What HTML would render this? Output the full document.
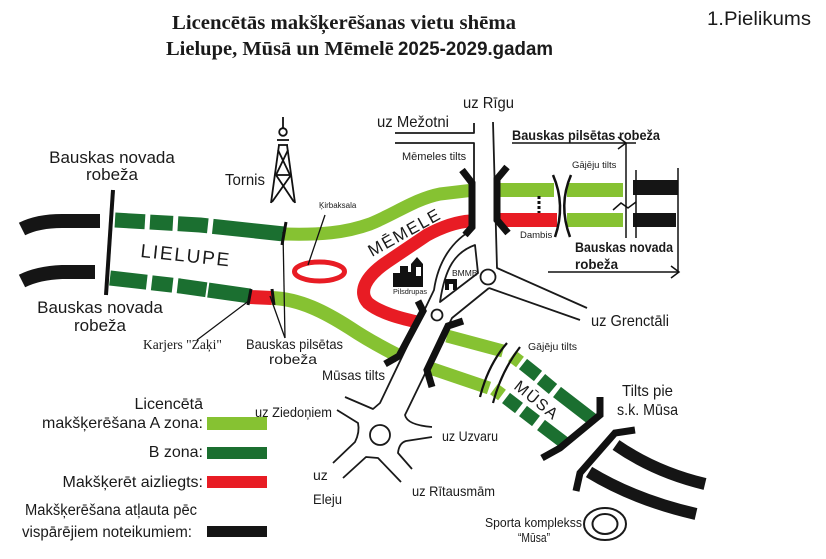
<!DOCTYPE html>
<html><head><meta charset="utf-8">
<style>
html,body{margin:0;padding:0;background:#fff;}
svg{display:block;}
text{font-family:"Liberation Sans",Arial,sans-serif;fill:#1a1a1a;}
.serif{font-family:"Liberation Serif","Times New Roman",serif;}
</style></head><body>
<svg width="826" height="559" viewBox="0 0 826 559" xmlns="http://www.w3.org/2000/svg">
<rect width="826" height="559" fill="#fff"/>

<!-- Title -->
<text class="serif" x="172" y="29" font-size="20.5" font-weight="bold" textLength="344" lengthAdjust="spacingAndGlyphs">Licencētās makšķerēšanas vietu shēma</text>
<text class="serif" x="166" y="55" font-size="20.5" font-weight="bold">Lielupe, Mūsā un Mēmelē</text>
<text x="398" y="55" font-size="19.5" font-weight="bold" textLength="155" lengthAdjust="spacingAndGlyphs">2025-2029.gadam</text>
<text x="707" y="25" font-size="19.5" textLength="104" lengthAdjust="spacingAndGlyphs">1.Pielikums</text>

<g fill="none" stroke-linecap="butt" stroke-linejoin="round">
  <!-- black upstream strips -->
  <path d="M22,229 Q38,221 62,221 L100,221" stroke="#151515" stroke-width="14"/>
  <path d="M22,281 Q38,273 62,272 L95,272" stroke="#151515" stroke-width="14"/>
  <!-- dark green dashed Lielupe -->
  <path d="M115,220 L200,225 L284,234" stroke="#1b6f30" stroke-width="15" stroke-dasharray="30 5 23 5 30 5 200"/>
  <path d="M110,278 L180,286 L250,296" stroke="#1b6f30" stroke-width="15" stroke-dasharray="37 5 21 5 29 2 100"/>
  <!-- red Zaki segment -->
  <path d="M250,297 L272,298" stroke="#e81c24" stroke-width="14"/>
  <!-- light green upper Lielupe / Memele -->
  <path d="M284,234 C320,235 345,233 370,224 C395,214 415,199 440,194 L474,190" stroke="#86c232" stroke-width="13"/>
  <!-- light green lower Lielupe -->
  <path d="M272,298 C300,299 325,312 350,328 C368,340 385,349 399,356" stroke="#86c232" stroke-width="14"/>
  <!-- red Memele -->
  <path d="M470,221 C455,222 440,228 427,235 L387,262 C365,277 358,292 368,303 C380,313 400,318 417,322" stroke="#e81c24" stroke-width="13"/>
  <!-- red island ellipse -->
  <ellipse cx="319.5" cy="271.5" rx="25" ry="9.5" stroke="#e81c24" stroke-width="5"/>
  <!-- right side rivers -->
  <path d="M500,190 L554,190" stroke="#86c232" stroke-width="14"/>
  <path d="M567,190 L623,190" stroke="#86c232" stroke-width="14"/>
  <path d="M500,220 L557,220" stroke="#e81c24" stroke-width="14"/>
  <path d="M567,220 L623,220" stroke="#86c232" stroke-width="14"/>
  <path d="M633,187.5 L678,187.5" stroke="#151515" stroke-width="15"/>
  <path d="M633,220 L676,220" stroke="#151515" stroke-width="14"/>
  <!-- Musa light green -->
  <path d="M447,336 L503,351" stroke="#86c232" stroke-width="13"/>
  <path d="M430,368 L489,388" stroke="#86c232" stroke-width="13"/>
  <path d="M512,356 L520,362" stroke="#86c232" stroke-width="13"/>
  <path d="M494,389 L502,395" stroke="#86c232" stroke-width="13"/>
  <!-- Musa dark green dashes -->
  <path d="M523,364 L538,376 M541,379 L553,389 M557,392 L592,419" stroke="#1b6f30" stroke-width="13"/>
  <path d="M506,398 L519,408 M523,411 L536,421 M541,425 L566,444" stroke="#1b6f30" stroke-width="13"/>
  <!-- black downstream -->
  <path d="M616,445 Q655,472 705,484" stroke="#151515" stroke-width="12"/>
  <path d="M589,472 Q635,500 696,514" stroke="#151515" stroke-width="12"/>
</g>

<!-- boundary ticks & lines -->
<g stroke="#111" fill="none">
  <line x1="113" y1="190" x2="106" y2="295" stroke-width="4"/>
  <line x1="286" y1="222" x2="282" y2="245" stroke-width="3"/>
  <line x1="251" y1="289" x2="248" y2="305" stroke-width="3"/>
  <line x1="272" y1="289" x2="274" y2="305" stroke-width="3"/>
  <line x1="285" y1="338" x2="283" y2="232" stroke-width="1.3"/>
  <line x1="285" y1="338" x2="270" y2="296" stroke-width="1.3"/>
  <line x1="197" y1="340" x2="250" y2="300" stroke-width="1.2"/>
  <line x1="325" y1="215" x2="308" y2="265" stroke-width="1.3"/>
  <!-- right boundaries -->
  <line x1="512" y1="143" x2="636" y2="143" stroke-width="1.5"/>
  <path d="M618,137 L626,143 L618,149" stroke-width="1.5"/>
  <line x1="626" y1="143" x2="626" y2="238" stroke-width="1.5"/>
  <line x1="636" y1="170" x2="636" y2="238" stroke-width="1.5"/>
  <line x1="678" y1="168" x2="678" y2="272" stroke-width="1.5"/>
  <line x1="548" y1="272" x2="679" y2="272" stroke-width="1.5"/>
  <path d="M671,266 L679,272 L671,278" stroke-width="1.5"/>
  <path d="M613,210 L621,203 L628,208 L636,202" stroke-width="1.5"/>
  <line x1="539" y1="196" x2="539" y2="213" stroke-width="3" stroke-dasharray="3 2"/>
  <!-- Gajeju tilts upper -->
  <path d="M553,175 Q566,205 555,237" stroke-width="2.5"/>
  <path d="M571,175 Q558,205 570,237" stroke-width="2.5"/>
  <!-- Gajeju tilts Musa -->
  <path d="M507,343 Q488,365 480,397" stroke-width="2.2"/>
  <path d="M520,347 Q501,372 493,403" stroke-width="2.2"/>
</g>

<!-- roads -->
<g stroke="#1a1a1a" stroke-width="1.8" fill="none" stroke-linejoin="round">
  <path d="M395,133 L474,133 L474,123"/>
  <path d="M395,143 L474,143 L474,229"/>
  <path d="M493,122 L497,268 L587,308"/>
  <path d="M489,288 L580,320"/>
  <path d="M474,229 C452,240 438,262 434,290 L380,403 L373,409 L345,397"/>
  <path d="M489,288 L452,318 L405,415 Q407,425 432,427"/>
  <path d="M475,245 C455,252 445,268 440,302 L478,273 Z"/>
  <circle cx="488" cy="277" r="7.5"/>
  <circle cx="437" cy="315" r="5.5"/>
  <circle cx="380" cy="435" r="10"/>
  <path d="M337,410 L358,423 Q360,432 355,442 L333,463"/>
  <path d="M343,478 L366,457 L378,458 L401,482"/>
  <path d="M412,469 L398,453 Q399,443 406,441 L432,437"/>
  <ellipse cx="605" cy="524" rx="21" ry="16" stroke-width="2"/>
  <ellipse cx="605" cy="524" rx="12.5" ry="10" stroke-width="2"/>
</g>

<!-- bridges -->
<g stroke="#111" stroke-width="7" fill="none" stroke-linejoin="miter" stroke-linecap="butt">
  <path d="M462,170 L472,183 L472,227 L465,235"/>
  <path d="M507,167 L497,179 L497,220 L508,233"/>
  <path d="M418,301 L423,311 L399,356 L385,364"/>
  <path d="M463,321 L448,326 L427,370 L432,387"/>
  <path d="M600,397 L600,415 L560,448 L542,458"/>
  <path d="M635,430 L615,433 L580,473 L576,491"/>
</g>

<!-- tower -->
<g stroke="#111" stroke-width="1.8" fill="none">
  <line x1="283" y1="117" x2="283" y2="128"/>
  <circle cx="283" cy="132" r="3.8"/>
  <line x1="277" y1="140" x2="289" y2="140"/>
  <line x1="278" y1="145" x2="288" y2="145"/>
  <line x1="279" y1="145" x2="271" y2="203"/>
  <line x1="287" y1="145" x2="295" y2="203"/>
  <line x1="276" y1="175" x2="291" y2="175"/>
  <line x1="278" y1="150" x2="290" y2="175"/>
  <line x1="288" y1="150" x2="276" y2="175"/>
  <line x1="276" y1="175" x2="294" y2="202"/>
  <line x1="291" y1="175" x2="272" y2="202"/>
</g>

<!-- Pilsdrupas icon -->
<path d="M393,287 L393,273 L400,273 L400,266 L408,266 L408,272 L411,272 L411,264 L417,257 L423,264 L423,287 Z" fill="#111"/>
<rect x="416" y="267" width="5" height="9" fill="#fff"/>
<!-- BMMB icon -->
<path d="M445,290 L445,279 L457,279 L457,290 L453,290 L453,284 L449,284 L449,290 Z" fill="#111"/>

<!-- labels -->
<text x="112" y="163" font-size="17" text-anchor="middle">Bauskas novada</text>
<text x="112" y="180" font-size="17" text-anchor="middle">robeža</text>
<text x="100" y="313" font-size="17" text-anchor="middle">Bauskas novada</text>
<text x="100" y="331" font-size="17" text-anchor="middle">robeža</text>
<text x="225" y="185" font-size="16" textLength="40" lengthAdjust="spacingAndGlyphs">Tornis</text>
<text x="319" y="208" font-size="8">Ķirbaksala</text>
<text class="serif" x="143" y="349" font-size="13.5">Karjers "Zaķi"</text>
<text x="246" y="349" font-size="14" textLength="97" lengthAdjust="spacingAndGlyphs">Bauskas pilsētas</text>
<text x="269" y="364" font-size="14" textLength="48" lengthAdjust="spacingAndGlyphs">robeža</text>
<text x="140" y="257" font-size="19" letter-spacing="2" textLength="91" transform="rotate(6 140 257)">LIELUPE</text>
<text x="372" y="257" font-size="17" letter-spacing="1.5" transform="rotate(-29 372 257)">MĒMELE</text>
<text x="513" y="388" font-size="16" letter-spacing="1.5" transform="rotate(39 513 388)">MŪSA</text>
<text x="463" y="108" font-size="16" textLength="51" lengthAdjust="spacingAndGlyphs">uz Rīgu</text>
<text x="377" y="127" font-size="16" textLength="72" lengthAdjust="spacingAndGlyphs">uz Mežotni</text>
<text x="402" y="160" font-size="11">Mēmeles tilts</text>
<text x="572" y="168" font-size="9.5">Gājēju tilts</text>
<text x="520" y="238" font-size="9.5">Dambis</text>
<text x="393" y="294" font-size="7.3">Pilsdrupas</text>
<text x="452" y="276" font-size="8.5">BMMB</text>
<text x="512" y="140" font-size="13.5" font-weight="bold" textLength="148" lengthAdjust="spacingAndGlyphs">Bauskas pilsētas robeža</text>
<text x="575" y="252" font-size="14" font-weight="bold" textLength="98" lengthAdjust="spacingAndGlyphs">Bauskas novada</text>
<text x="575" y="269" font-size="14" font-weight="bold" textLength="43" lengthAdjust="spacingAndGlyphs">robeža</text>
<text x="591" y="326" font-size="16" textLength="78" lengthAdjust="spacingAndGlyphs">uz Grenctāli</text>
<text x="528" y="350" font-size="10.5">Gājēju tilts</text>
<text x="322" y="380" font-size="14" textLength="63" lengthAdjust="spacingAndGlyphs">Mūsas tilts</text>
<text x="255" y="417" font-size="13.5" textLength="77" lengthAdjust="spacingAndGlyphs">uz Ziedoņiem</text>
<text x="442" y="441" font-size="14" textLength="56" lengthAdjust="spacingAndGlyphs">uz Uzvaru</text>
<text x="313" y="480" font-size="14">uz</text>
<text x="313" y="504" font-size="14" textLength="29" lengthAdjust="spacingAndGlyphs">Eleju</text>
<text x="412" y="496" font-size="14" textLength="83" lengthAdjust="spacingAndGlyphs">uz Rītausmām</text>
<text x="485" y="527" font-size="12.5" textLength="97" lengthAdjust="spacingAndGlyphs">Sporta komplekss</text>
<text x="518" y="542" font-size="12.5" textLength="32" lengthAdjust="spacingAndGlyphs">“Mūsa”</text>
<text x="622" y="396" font-size="16" textLength="51" lengthAdjust="spacingAndGlyphs">Tilts pie</text>
<text x="617" y="415" font-size="16" textLength="61" lengthAdjust="spacingAndGlyphs">s.k. Mūsa</text>

<!-- legend -->
<text x="203" y="409" font-size="16" text-anchor="end">Licencētā</text>
<text x="203" y="428" font-size="16" text-anchor="end">makšķerēšana A zona:</text>
<text x="203" y="457" font-size="16" text-anchor="end">B zona:</text>
<text x="203" y="487" font-size="16" text-anchor="end">Makšķerēt aizliegts:</text>
<text x="25" y="515" font-size="15.5" textLength="172" lengthAdjust="spacingAndGlyphs">Makšķerēšana atļauta pēc</text>
<text x="22" y="537" font-size="15.5" textLength="170" lengthAdjust="spacingAndGlyphs">vispārējiem noteikumiem:</text>
<rect x="207" y="417" width="60" height="13" fill="#86c232"/>
<rect x="207" y="447" width="60" height="12" fill="#1b6f30"/>
<rect x="207" y="476" width="60" height="12" fill="#e81c24"/>
<rect x="207" y="526" width="60" height="11" fill="#151515"/>
</svg>
</body></html>
